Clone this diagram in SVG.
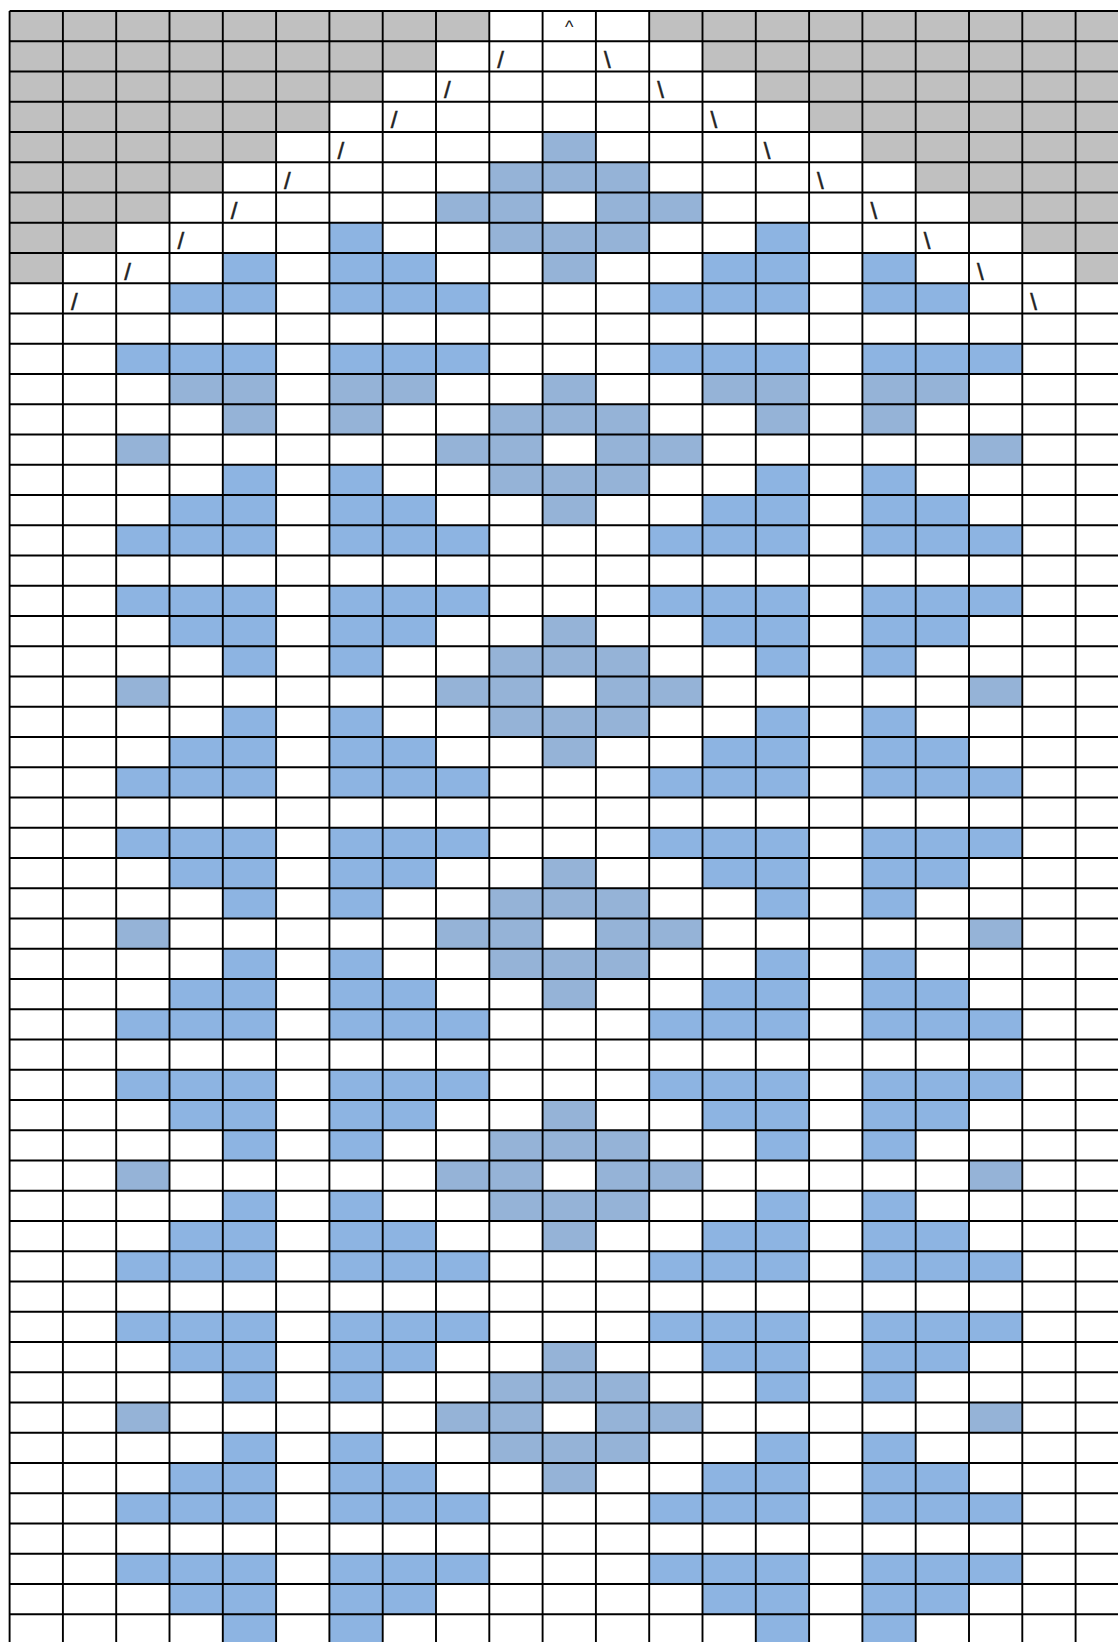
<svg xmlns="http://www.w3.org/2000/svg" width="1118" height="1642" viewBox="0 0 1118 1642">
<style>
.s{fill:#C0C0C0}
.b{fill:#8DB4E2}
.g{fill:#95B3D7}
.grid{fill:none;stroke:#000;stroke-width:1.9}
.sym{font-family:"Liberation Sans",Arial,sans-serif;font-size:24px;fill:#222;stroke:#222;stroke-width:0.5}
.car{font-family:"Liberation Sans",Arial,sans-serif;font-size:18px;fill:#222;text-anchor:middle}
</style>
<rect x="0" y="0" width="1118" height="1642" fill="#fff"/>
<g id="shaded">
<rect class="s" x="9.6" y="11" width="479.7" height="30.25"/><rect class="s" x="649.2" y="11" width="468.8" height="30.25"/>
<rect class="s" x="9.6" y="41.25" width="426.4" height="30.25"/><rect class="s" x="702.5" y="41.25" width="415.5" height="30.25"/>
<rect class="s" x="9.6" y="71.5" width="373.1" height="30.25"/><rect class="s" x="755.8" y="71.5" width="362.2" height="30.25"/>
<rect class="s" x="9.6" y="101.75" width="319.8" height="30.25"/><rect class="s" x="809.1" y="101.75" width="308.9" height="30.25"/>
<rect class="s" x="9.6" y="132" width="266.5" height="30.25"/><rect class="s" x="862.4" y="132" width="255.6" height="30.25"/>
<rect class="s" x="9.6" y="162.25" width="213.2" height="30.25"/><rect class="s" x="915.7" y="162.25" width="202.3" height="30.25"/>
<rect class="s" x="9.6" y="192.5" width="159.9" height="30.25"/><rect class="s" x="969" y="192.5" width="149" height="30.25"/>
<rect class="s" x="9.6" y="222.75" width="106.6" height="30.25"/><rect class="s" x="1022.3" y="222.75" width="95.7" height="30.25"/>
<rect class="s" x="9.6" y="253" width="53.3" height="30.25"/><rect class="s" x="1075.6" y="253" width="42.4" height="30.25"/>
</g>
<g id="top-motif">
<rect class="g" x="542.6" y="132" width="53.3" height="30.25"/>
<rect class="g" x="489.3" y="162.25" width="159.9" height="30.25"/>
<rect class="g" x="436" y="192.5" width="106.6" height="30.25"/><rect class="g" x="595.9" y="192.5" width="106.6" height="30.25"/>
<rect class="b" x="329.4" y="222.75" width="53.3" height="30.25"/><rect class="g" x="489.3" y="222.75" width="159.9" height="30.25"/><rect class="b" x="755.8" y="222.75" width="53.3" height="30.25"/>
<rect class="b" x="222.8" y="253" width="53.3" height="30.25"/><rect class="b" x="329.4" y="253" width="106.6" height="30.25"/><rect class="g" x="542.6" y="253" width="53.3" height="30.25"/><rect class="b" x="702.5" y="253" width="106.6" height="30.25"/><rect class="b" x="862.4" y="253" width="53.3" height="30.25"/>
<rect class="b" x="169.5" y="283.25" width="106.6" height="30.25"/><rect class="b" x="329.4" y="283.25" width="159.9" height="30.25"/><rect class="b" x="649.2" y="283.25" width="159.9" height="30.25"/><rect class="b" x="862.4" y="283.25" width="106.6" height="30.25"/>
</g>
<g id="motif-1">
<rect class="b" x="116.2" y="343.75" width="159.9" height="30.25"/><rect class="b" x="329.4" y="343.75" width="159.9" height="30.25"/><rect class="b" x="649.2" y="343.75" width="159.9" height="30.25"/><rect class="b" x="862.4" y="343.75" width="159.9" height="30.25"/>
<rect class="g" x="169.5" y="374" width="106.6" height="30.25"/><rect class="g" x="329.4" y="374" width="106.6" height="30.25"/><rect class="g" x="542.6" y="374" width="53.3" height="30.25"/><rect class="g" x="702.5" y="374" width="106.6" height="30.25"/><rect class="g" x="862.4" y="374" width="106.6" height="30.25"/>
<rect class="g" x="222.8" y="404.25" width="53.3" height="30.25"/><rect class="g" x="329.4" y="404.25" width="53.3" height="30.25"/><rect class="g" x="489.3" y="404.25" width="159.9" height="30.25"/><rect class="g" x="755.8" y="404.25" width="53.3" height="30.25"/><rect class="g" x="862.4" y="404.25" width="53.3" height="30.25"/>
<rect class="g" x="116.2" y="434.5" width="53.3" height="30.25"/><rect class="g" x="436" y="434.5" width="106.6" height="30.25"/><rect class="g" x="595.9" y="434.5" width="106.6" height="30.25"/><rect class="g" x="969" y="434.5" width="53.3" height="30.25"/>
<rect class="b" x="222.8" y="464.75" width="53.3" height="30.25"/><rect class="b" x="329.4" y="464.75" width="53.3" height="30.25"/><rect class="g" x="489.3" y="464.75" width="159.9" height="30.25"/><rect class="b" x="755.8" y="464.75" width="53.3" height="30.25"/><rect class="b" x="862.4" y="464.75" width="53.3" height="30.25"/>
<rect class="b" x="169.5" y="495" width="106.6" height="30.25"/><rect class="b" x="329.4" y="495" width="106.6" height="30.25"/><rect class="g" x="542.6" y="495" width="53.3" height="30.25"/><rect class="b" x="702.5" y="495" width="106.6" height="30.25"/><rect class="b" x="862.4" y="495" width="106.6" height="30.25"/>
<rect class="b" x="116.2" y="525.25" width="159.9" height="30.25"/><rect class="b" x="329.4" y="525.25" width="159.9" height="30.25"/><rect class="b" x="649.2" y="525.25" width="159.9" height="30.25"/><rect class="b" x="862.4" y="525.25" width="159.9" height="30.25"/>
</g>
<g id="motif-2">
<rect class="b" x="116.2" y="585.75" width="159.9" height="30.25"/><rect class="b" x="329.4" y="585.75" width="159.9" height="30.25"/><rect class="b" x="649.2" y="585.75" width="159.9" height="30.25"/><rect class="b" x="862.4" y="585.75" width="159.9" height="30.25"/>
<rect class="b" x="169.5" y="616" width="106.6" height="30.25"/><rect class="b" x="329.4" y="616" width="106.6" height="30.25"/><rect class="g" x="542.6" y="616" width="53.3" height="30.25"/><rect class="b" x="702.5" y="616" width="106.6" height="30.25"/><rect class="b" x="862.4" y="616" width="106.6" height="30.25"/>
<rect class="b" x="222.8" y="646.25" width="53.3" height="30.25"/><rect class="b" x="329.4" y="646.25" width="53.3" height="30.25"/><rect class="g" x="489.3" y="646.25" width="159.9" height="30.25"/><rect class="b" x="755.8" y="646.25" width="53.3" height="30.25"/><rect class="b" x="862.4" y="646.25" width="53.3" height="30.25"/>
<rect class="g" x="116.2" y="676.5" width="53.3" height="30.25"/><rect class="g" x="436" y="676.5" width="106.6" height="30.25"/><rect class="g" x="595.9" y="676.5" width="106.6" height="30.25"/><rect class="g" x="969" y="676.5" width="53.3" height="30.25"/>
<rect class="b" x="222.8" y="706.75" width="53.3" height="30.25"/><rect class="b" x="329.4" y="706.75" width="53.3" height="30.25"/><rect class="g" x="489.3" y="706.75" width="159.9" height="30.25"/><rect class="b" x="755.8" y="706.75" width="53.3" height="30.25"/><rect class="b" x="862.4" y="706.75" width="53.3" height="30.25"/>
<rect class="b" x="169.5" y="737" width="106.6" height="30.25"/><rect class="b" x="329.4" y="737" width="106.6" height="30.25"/><rect class="g" x="542.6" y="737" width="53.3" height="30.25"/><rect class="b" x="702.5" y="737" width="106.6" height="30.25"/><rect class="b" x="862.4" y="737" width="106.6" height="30.25"/>
<rect class="b" x="116.2" y="767.25" width="159.9" height="30.25"/><rect class="b" x="329.4" y="767.25" width="159.9" height="30.25"/><rect class="b" x="649.2" y="767.25" width="159.9" height="30.25"/><rect class="b" x="862.4" y="767.25" width="159.9" height="30.25"/>
</g>
<g id="motif-3">
<rect class="b" x="116.2" y="827.75" width="159.9" height="30.25"/><rect class="b" x="329.4" y="827.75" width="159.9" height="30.25"/><rect class="b" x="649.2" y="827.75" width="159.9" height="30.25"/><rect class="b" x="862.4" y="827.75" width="159.9" height="30.25"/>
<rect class="b" x="169.5" y="858" width="106.6" height="30.25"/><rect class="b" x="329.4" y="858" width="106.6" height="30.25"/><rect class="g" x="542.6" y="858" width="53.3" height="30.25"/><rect class="b" x="702.5" y="858" width="106.6" height="30.25"/><rect class="b" x="862.4" y="858" width="106.6" height="30.25"/>
<rect class="b" x="222.8" y="888.25" width="53.3" height="30.25"/><rect class="b" x="329.4" y="888.25" width="53.3" height="30.25"/><rect class="g" x="489.3" y="888.25" width="159.9" height="30.25"/><rect class="b" x="755.8" y="888.25" width="53.3" height="30.25"/><rect class="b" x="862.4" y="888.25" width="53.3" height="30.25"/>
<rect class="g" x="116.2" y="918.5" width="53.3" height="30.25"/><rect class="g" x="436" y="918.5" width="106.6" height="30.25"/><rect class="g" x="595.9" y="918.5" width="106.6" height="30.25"/><rect class="g" x="969" y="918.5" width="53.3" height="30.25"/>
<rect class="b" x="222.8" y="948.75" width="53.3" height="30.25"/><rect class="b" x="329.4" y="948.75" width="53.3" height="30.25"/><rect class="g" x="489.3" y="948.75" width="159.9" height="30.25"/><rect class="b" x="755.8" y="948.75" width="53.3" height="30.25"/><rect class="b" x="862.4" y="948.75" width="53.3" height="30.25"/>
<rect class="b" x="169.5" y="979" width="106.6" height="30.25"/><rect class="b" x="329.4" y="979" width="106.6" height="30.25"/><rect class="g" x="542.6" y="979" width="53.3" height="30.25"/><rect class="b" x="702.5" y="979" width="106.6" height="30.25"/><rect class="b" x="862.4" y="979" width="106.6" height="30.25"/>
<rect class="b" x="116.2" y="1009.25" width="159.9" height="30.25"/><rect class="b" x="329.4" y="1009.25" width="159.9" height="30.25"/><rect class="b" x="649.2" y="1009.25" width="159.9" height="30.25"/><rect class="b" x="862.4" y="1009.25" width="159.9" height="30.25"/>
</g>
<g id="motif-4">
<rect class="b" x="116.2" y="1069.75" width="159.9" height="30.25"/><rect class="b" x="329.4" y="1069.75" width="159.9" height="30.25"/><rect class="b" x="649.2" y="1069.75" width="159.9" height="30.25"/><rect class="b" x="862.4" y="1069.75" width="159.9" height="30.25"/>
<rect class="b" x="169.5" y="1100" width="106.6" height="30.25"/><rect class="b" x="329.4" y="1100" width="106.6" height="30.25"/><rect class="g" x="542.6" y="1100" width="53.3" height="30.25"/><rect class="b" x="702.5" y="1100" width="106.6" height="30.25"/><rect class="b" x="862.4" y="1100" width="106.6" height="30.25"/>
<rect class="b" x="222.8" y="1130.25" width="53.3" height="30.25"/><rect class="b" x="329.4" y="1130.25" width="53.3" height="30.25"/><rect class="g" x="489.3" y="1130.25" width="159.9" height="30.25"/><rect class="b" x="755.8" y="1130.25" width="53.3" height="30.25"/><rect class="b" x="862.4" y="1130.25" width="53.3" height="30.25"/>
<rect class="g" x="116.2" y="1160.5" width="53.3" height="30.25"/><rect class="g" x="436" y="1160.5" width="106.6" height="30.25"/><rect class="g" x="595.9" y="1160.5" width="106.6" height="30.25"/><rect class="g" x="969" y="1160.5" width="53.3" height="30.25"/>
<rect class="b" x="222.8" y="1190.75" width="53.3" height="30.25"/><rect class="b" x="329.4" y="1190.75" width="53.3" height="30.25"/><rect class="g" x="489.3" y="1190.75" width="159.9" height="30.25"/><rect class="b" x="755.8" y="1190.75" width="53.3" height="30.25"/><rect class="b" x="862.4" y="1190.75" width="53.3" height="30.25"/>
<rect class="b" x="169.5" y="1221" width="106.6" height="30.25"/><rect class="b" x="329.4" y="1221" width="106.6" height="30.25"/><rect class="g" x="542.6" y="1221" width="53.3" height="30.25"/><rect class="b" x="702.5" y="1221" width="106.6" height="30.25"/><rect class="b" x="862.4" y="1221" width="106.6" height="30.25"/>
<rect class="b" x="116.2" y="1251.25" width="159.9" height="30.25"/><rect class="b" x="329.4" y="1251.25" width="159.9" height="30.25"/><rect class="b" x="649.2" y="1251.25" width="159.9" height="30.25"/><rect class="b" x="862.4" y="1251.25" width="159.9" height="30.25"/>
</g>
<g id="motif-5">
<rect class="b" x="116.2" y="1311.75" width="159.9" height="30.25"/><rect class="b" x="329.4" y="1311.75" width="159.9" height="30.25"/><rect class="b" x="649.2" y="1311.75" width="159.9" height="30.25"/><rect class="b" x="862.4" y="1311.75" width="159.9" height="30.25"/>
<rect class="b" x="169.5" y="1342" width="106.6" height="30.25"/><rect class="b" x="329.4" y="1342" width="106.6" height="30.25"/><rect class="g" x="542.6" y="1342" width="53.3" height="30.25"/><rect class="b" x="702.5" y="1342" width="106.6" height="30.25"/><rect class="b" x="862.4" y="1342" width="106.6" height="30.25"/>
<rect class="b" x="222.8" y="1372.25" width="53.3" height="30.25"/><rect class="b" x="329.4" y="1372.25" width="53.3" height="30.25"/><rect class="g" x="489.3" y="1372.25" width="159.9" height="30.25"/><rect class="b" x="755.8" y="1372.25" width="53.3" height="30.25"/><rect class="b" x="862.4" y="1372.25" width="53.3" height="30.25"/>
<rect class="g" x="116.2" y="1402.5" width="53.3" height="30.25"/><rect class="g" x="436" y="1402.5" width="106.6" height="30.25"/><rect class="g" x="595.9" y="1402.5" width="106.6" height="30.25"/><rect class="g" x="969" y="1402.5" width="53.3" height="30.25"/>
<rect class="b" x="222.8" y="1432.75" width="53.3" height="30.25"/><rect class="b" x="329.4" y="1432.75" width="53.3" height="30.25"/><rect class="g" x="489.3" y="1432.75" width="159.9" height="30.25"/><rect class="b" x="755.8" y="1432.75" width="53.3" height="30.25"/><rect class="b" x="862.4" y="1432.75" width="53.3" height="30.25"/>
<rect class="b" x="169.5" y="1463" width="106.6" height="30.25"/><rect class="b" x="329.4" y="1463" width="106.6" height="30.25"/><rect class="g" x="542.6" y="1463" width="53.3" height="30.25"/><rect class="b" x="702.5" y="1463" width="106.6" height="30.25"/><rect class="b" x="862.4" y="1463" width="106.6" height="30.25"/>
<rect class="b" x="116.2" y="1493.25" width="159.9" height="30.25"/><rect class="b" x="329.4" y="1493.25" width="159.9" height="30.25"/><rect class="b" x="649.2" y="1493.25" width="159.9" height="30.25"/><rect class="b" x="862.4" y="1493.25" width="159.9" height="30.25"/>
</g>
<g id="motif-6">
<rect class="b" x="116.2" y="1553.75" width="159.9" height="30.25"/><rect class="b" x="329.4" y="1553.75" width="159.9" height="30.25"/><rect class="b" x="649.2" y="1553.75" width="159.9" height="30.25"/><rect class="b" x="862.4" y="1553.75" width="159.9" height="30.25"/>
<rect class="b" x="169.5" y="1584" width="106.6" height="30.25"/><rect class="b" x="329.4" y="1584" width="106.6" height="30.25"/><rect class="b" x="702.5" y="1584" width="106.6" height="30.25"/><rect class="b" x="862.4" y="1584" width="106.6" height="30.25"/>
<rect class="b" x="222.8" y="1614.25" width="53.3" height="30.25"/><rect class="b" x="329.4" y="1614.25" width="53.3" height="30.25"/><rect class="b" x="755.8" y="1614.25" width="53.3" height="30.25"/><rect class="b" x="862.4" y="1614.25" width="53.3" height="30.25"/>
</g>
<g id="grid">
<path class="grid" d="M9.6 11V1642M62.9 11V1642M116.2 11V1642M169.5 11V1642M222.8 11V1642M276.1 11V1642M329.4 11V1642M382.7 11V1642M436 11V1642M489.3 11V1642M542.6 11V1642M595.9 11V1642M649.2 11V1642M702.5 11V1642M755.8 11V1642M809.1 11V1642M862.4 11V1642M915.7 11V1642M969 11V1642M1022.3 11V1642M1075.6 11V1642"/>
<path class="grid" d="M9.6 11H1118M9.6 41.25H1118M9.6 71.5H1118M9.6 101.75H1118M9.6 132H1118M9.6 162.25H1118M9.6 192.5H1118M9.6 222.75H1118M9.6 253H1118M9.6 283.25H1118M9.6 313.5H1118M9.6 343.75H1118M9.6 374H1118M9.6 404.25H1118M9.6 434.5H1118M9.6 464.75H1118M9.6 495H1118M9.6 525.25H1118M9.6 555.5H1118M9.6 585.75H1118M9.6 616H1118M9.6 646.25H1118M9.6 676.5H1118M9.6 706.75H1118M9.6 737H1118M9.6 767.25H1118M9.6 797.5H1118M9.6 827.75H1118M9.6 858H1118M9.6 888.25H1118M9.6 918.5H1118M9.6 948.75H1118M9.6 979H1118M9.6 1009.25H1118M9.6 1039.5H1118M9.6 1069.75H1118M9.6 1100H1118M9.6 1130.25H1118M9.6 1160.5H1118M9.6 1190.75H1118M9.6 1221H1118M9.6 1251.25H1118M9.6 1281.5H1118M9.6 1311.75H1118M9.6 1342H1118M9.6 1372.25H1118M9.6 1402.5H1118M9.6 1432.75H1118M9.6 1463H1118M9.6 1493.25H1118M9.6 1523.5H1118M9.6 1553.75H1118M9.6 1584H1118M9.6 1614.25H1118"/>
</g>
<g id="symbols">
<text class="car" x="569.25" y="33">^</text>
<text class="sym" x="497.3" y="67.75">/</text>
<text class="sym" x="444" y="98">/</text>
<text class="sym" x="390.7" y="128.25">/</text>
<text class="sym" x="337.4" y="158.5">/</text>
<text class="sym" x="284.1" y="188.75">/</text>
<text class="sym" x="230.8" y="219">/</text>
<text class="sym" x="177.5" y="249.25">/</text>
<text class="sym" x="124.2" y="279.5">/</text>
<text class="sym" x="70.9" y="309.75">/</text>
<text class="sym" x="603.9" y="67.75">\</text>
<text class="sym" x="657.2" y="98">\</text>
<text class="sym" x="710.5" y="128.25">\</text>
<text class="sym" x="763.8" y="158.5">\</text>
<text class="sym" x="817.1" y="188.75">\</text>
<text class="sym" x="870.4" y="219">\</text>
<text class="sym" x="923.7" y="249.25">\</text>
<text class="sym" x="977" y="279.5">\</text>
<text class="sym" x="1030.3" y="309.75">\</text>
</g>
</svg>
